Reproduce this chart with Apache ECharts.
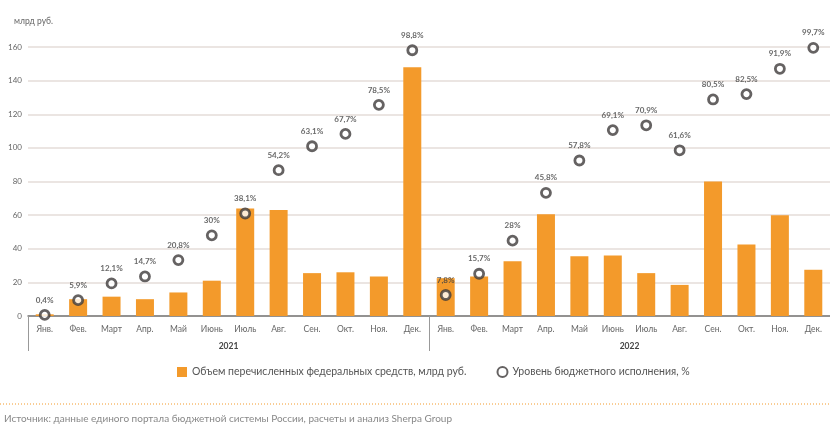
<!DOCTYPE html>
<html>
<head>
<meta charset="utf-8">
<script src="https://cdn.jsdelivr.net/npm/echarts@6/dist/echarts.min.js"></script>
<style>
  html, body { margin: 0; padding: 0; background: #fff; }
  #chart { width: 830px; height: 426px; }
</style>
</head>
<body>
<div id="chart"></div>
<script>
const months = ['Янв.', 'Фев.', 'Март', 'Апр.', 'Май', 'Июнь', 'Июль', 'Авг.', 'Сен.', 'Окт.', 'Ноя.', 'Дек.']
const years = ['2021', '2022']
const categories = years.flatMap(y => months.map(m => m + '|' + y))

// Объем перечисленных федеральных средств, млрд руб.
const transfers2021 = [1, 10, 11.5, 10, 14, 21, 64, 63, 25.5, 26, 23.5, 148]
const transfers2022 = [22.5, 23.5, 32.5, 60.5, 35.5, 36, 25.5, 18.5, 80, 42.5, 60, 27.5]
// Уровень бюджетного исполнения, %
const execution2021 = [0.4, 5.9, 12.1, 14.7, 20.8, 30, 38.1, 54.2, 63.1, 67.7, 78.5, 98.8]
const execution2022 = [7.8, 15.7, 28, 45.8, 57.8, 69.1, 70.9, 61.6, 80.5, 82.5, 91.9, 99.7]

const barName = 'Объем перечисленных федеральных средств, млрд руб.'
const dotName = 'Уровень бюджетного исполнения, %'
const font = 'Lato'

const chart = echarts.init(document.getElementById('chart'), null, { renderer: 'canvas' })

const option = {
  animation: false,
  textStyle: { fontFamily: font },
  title: {
    text: 'млрд руб.',
    left: 9,
    top: 12,
    textStyle: { fontSize: 8.5, fontWeight: 'normal', color: '#666', fontFamily: font }
  },
  grid: { left: 28, right: -9, top: 47, bottom: 110, containLabel: false },
  legend: {
    top: 361,
    left: 172,
    itemGap: 30,
    itemWidth: 10,
    itemHeight: 10,
    textStyle: { fontSize: 10.5, color: '#555', fontFamily: font },
    data: [
      { name: barName, icon: 'rect' },
      { name: dotName, icon: 'circle' }
    ]
  },
  xAxis: [
    {
      type: 'category',
      data: categories,
      axisLine: { lineStyle: { color: '#777', width: 1.5 } },
      axisTick: { show: false },
      axisLabel: {
        interval: 0,
        margin: 9,
        fontSize: 8.5,
        color: '#666',
        formatter: v => v.split('|')[0]
      }
    },
    {
      type: 'category',
      data: years,
      position: 'bottom',
      axisLine: { show: false },
      axisTick: { show: true, length: 35, interval: 0, lineStyle: { color: '#999', width: 1 } },
      axisLabel: { margin: 26, fontSize: 8.5, fontWeight: 'bold', color: '#444' }
    }
  ],
  yAxis: [
    {
      type: 'value',
      min: 0,
      max: 160,
      interval: 20,
      axisLine: { show: false },
      axisTick: { show: false },
      axisLabel: { fontSize: 8, color: '#666', margin: 6 },
      splitLine: { lineStyle: { color: '#e4dcd8', width: 1.5 } }
    },
    {
      type: 'value',
      min: 0,
      max: 100,
      show: false,
      splitLine: { show: false }
    }
  ],
  series: [
    {
      name: barName,
      type: 'bar',
      barWidth: 18,
      itemStyle: { color: '#f39a2b' },
      data: transfers2021.concat(transfers2022)
    },
    {
      name: dotName,
      type: 'scatter',
      yAxisIndex: 1,
      symbol: 'circle',
      symbolSize: 9,
      itemStyle: { color: '#fff', borderColor: '#3f3b3b', borderWidth: 2.8 },
      label: {
        show: true,
        position: 'top',
        distance: 5,
        fontSize: 8,
        fontWeight: 'bold',
        color: '#444',
        formatter: p => String(p.value).replace('.', ',') + '%'
      },
      z: 5,
      data: execution2021.concat(execution2022)
    }
  ],
  graphic: [
    {
      type: 'line',
      shape: { x1: 0, y1: 404, x2: 830, y2: 404 },
      style: { stroke: '#f39a2b', lineWidth: 1, lineDash: [1, 2] }
    },
    {
      type: 'text',
      left: 4,
      top: 414,
      style: {
        text: 'Источник: данные единого портала бюджетной системы России, расчеты и анализ Sherpa Group',
        fontSize: 10,
        fill: '#888',
        fontFamily: font
      }
    }
  ]
}

chart.setOption(option)
window.addEventListener('resize', chart.resize)
</script>
</body>
</html>
